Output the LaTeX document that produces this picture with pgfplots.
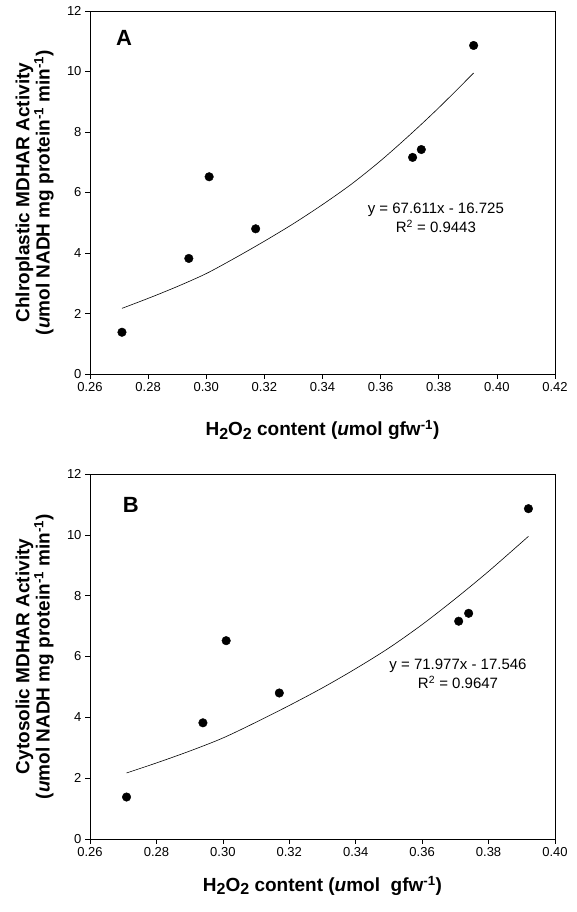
\documentclass[border=0pt]{standalone}
\usepackage{fontspec}
\setmainfont{Liberation Sans}
\usepackage{pgfplots}
\pgfplotsset{compat=1.18}

\newcommand{\subtwo}{\raisebox{-0.35ex}{\fontsize{16}{16}\selectfont 2}}

\pgfplotsset{
  mdstyle/.style={
    scale only axis, width=465pt,
    anchor=south west,
    axis line style={line width=0.6pt},
    tick style={line width=0.6pt, black},
    tick align=outside, major tick length=5pt,
    xtick pos=bottom, ytick pos=left,
    ymin=0, ymax=12, ytick={0,2,...,12},
    xmin=0.26, xtick distance=0.02,
    tick label style={font=\fontsize{13}{15}\selectfont},
    /pgf/number format/assume math mode=true,
    xticklabel style={/pgf/number format/.cd, fixed, fixed zerofill, precision=2},
    yticklabel style={/pgf/number format/.cd, fixed, precision=0},
    clip=false,
  },
  dots/.style={only marks, mark=*, mark size=4.3pt, black},
  fit/.style={black, line width=0.6pt, smooth, no marks},
}

\begin{document}
\begin{tikzpicture}
\useasboundingbox (0,0) rectangle (577pt,912pt);

% panel A
\begin{axis}[mdstyle, at={(90pt,538pt)}, height=363pt, xmax=0.42]
\addplot[dots] coordinates {
  (0.271,1.38)(0.294,3.82)(0.301,6.52)(0.317,4.80)(0.371,7.16)(0.374,7.42)(0.392,10.86)
};
\addplot[fit] coordinates {
  (0.271,2.17)(0.280,2.50)(0.290,2.89)(0.300,3.32)(0.310,3.84)(0.320,4.39)(0.330,4.97)
  (0.340,5.60)(0.350,6.28)(0.360,7.05)(0.370,7.90)(0.380,8.80)(0.392,9.95)
};
\node[font=\bfseries\fontsize{22}{24}\selectfont] at (axis cs:0.2717,11.12) {A};
\node[align=center, font=\fontsize{15}{19}\selectfont] at (axis cs:0.379,5.16)
  {y = 67.611x - 16.725\\R\textsuperscript{2} = 0.9443};
\node[font=\bfseries\fontsize{19}{21}\selectfont] at (axis description cs:0.5,-0.154)
  {H\subtwo O\subtwo\ content (\textit{u}mol gfw\textsuperscript{-1})};
\node[rotate=90, align=center, font=\bfseries\fontsize{19}{18.5}\selectfont] at (axis description cs:-0.119,0.5)
  {Chlroplastic MDHAR Activity\\(\textit{u}mol NADH mg protein\textsuperscript{-1} min\textsuperscript{-1})};
\end{axis}

% panel B
\begin{axis}[mdstyle, at={(90pt,73pt)}, height=365pt, xmax=0.40]
\addplot[dots] coordinates {
  (0.271,1.38)(0.294,3.82)(0.301,6.52)(0.317,4.80)(0.371,7.16)(0.374,7.42)(0.392,10.86)
};
\addplot[fit] coordinates {
  (0.271,2.17)(0.280,2.50)(0.290,2.89)(0.300,3.32)(0.310,3.84)(0.320,4.39)(0.330,4.97)
  (0.340,5.60)(0.350,6.28)(0.360,7.05)(0.370,7.90)(0.380,8.80)(0.392,9.95)
};
\node[font=\bfseries\fontsize{22}{24}\selectfont] at (axis cs:0.2723,10.98) {B};
\node[align=center, font=\fontsize{15}{19}\selectfont] at (axis cs:0.3708,5.42)
  {y = 71.977x - 17.546\\R\textsuperscript{2} = 0.9647};
\node[font=\bfseries\fontsize{19}{21}\selectfont] at (axis description cs:0.5,-0.128)
  {H\subtwo O\subtwo\ content (\textit{u}mol\ \ gfw\textsuperscript{-1})};
\node[rotate=90, align=center, font=\bfseries\fontsize{19}{18.5}\selectfont] at (axis description cs:-0.119,0.5)
  {Cytosolic MDHAR Activity\\(\textit{u}mol NADH mg protein\textsuperscript{-1} min\textsuperscript{-1})};
\end{axis}
\end{tikzpicture}
\end{document}
